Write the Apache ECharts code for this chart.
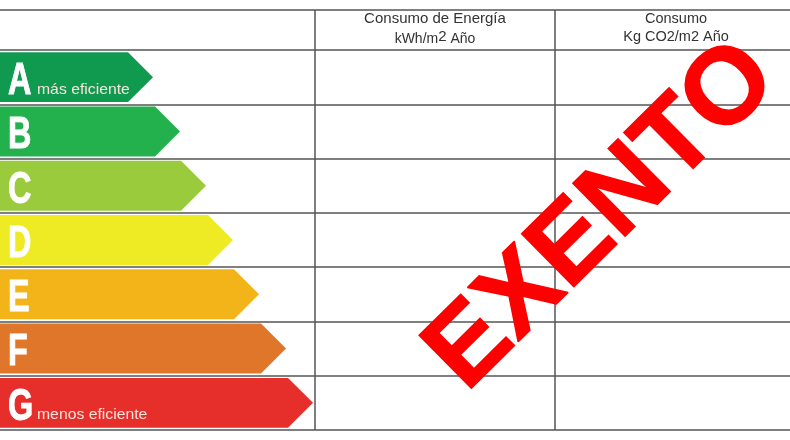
<!DOCTYPE html>
<html>
<head>
<meta charset="utf-8">
<style>html,body{margin:0;padding:0;background:#fff}#main{width:790px;height:440px}</style>
<script src="https://cdn.jsdelivr.net/npm/echarts@6/dist/echarts.min.js"></script>
</head>
<body>
<div id="main"></div>
<script>
// clases de la etiqueta energetica
var grades = ['A', 'B', 'C', 'D', 'E', 'F', 'G'];
var arrowEnds = [153, 180, 206, 233, 259, 286, 313];
var gradeColors = ['#0f9a4f', '#22b14c', '#9acb3c', '#eeea23', '#f3b41a', '#e0762a', '#e62e2b'];
var gradeNotes = ['más eficiente', '', '', '', '', '', 'menos eficiente'];
var columnLines = [315, 555];
var stamp = 'EXENTO';

var lineColor = '#555';
var textColor = '#333';
var font = '"Liberation Sans", Arial, sans-serif';

function renderArrow(params, api) {
    var i = params.dataIndex;
    var mid = api.coord([0, api.value(1)]);
    var tip = api.coord([api.value(0), api.value(1)]);
    var h = api.size([0, 1])[1] * 0.92;
    var neck = tip[0] - h / 2;
    var children = [{
        type: 'polygon',
        shape: { points: [
            [mid[0], mid[1] - h / 2], [neck, mid[1] - h / 2], [tip[0], tip[1]],
            [neck, mid[1] + h / 2], [mid[0], mid[1] + h / 2]
        ] },
        style: { fill: gradeColors[i] }
    }, {
        type: 'text',
        x: 8, y: mid[1] + 27, scaleX: 0.72,
        style: {
            text: grades[i], fill: '#fff', stroke: '#fff', lineWidth: 1, font: 'bold 45px ' + font,
            textAlign: 'left', textVerticalAlign: 'bottom'
        }
    }];
    if (gradeNotes[i]) {
        children.push({
            type: 'text',
            x: 37, y: mid[1] + 20, scaleX: 1.05,
            style: {
                text: gradeNotes[i], fill: '#fbe3dc', font: '15px ' + font,
                textAlign: 'left', textVerticalAlign: 'bottom'
            }
        });
    }
    return { type: 'group', children: children };
}

var myChart = echarts.init(document.getElementById('main'));

var lines = [{ type: 'line', z: 5, shape: { x1: 0, y1: 10, x2: 790, y2: 10 }, style: { stroke: lineColor, lineWidth: 1.5 } }];
columnLines.forEach(function (x) {
    lines.push({ type: 'line', z: 5, shape: { x1: x, y1: 10, x2: x, y2: 430 }, style: { stroke: lineColor, lineWidth: 1.5 } });
});

var option = {
    animation: false,
    backgroundColor: '#fff',
    grid: { left: 0, right: 0, top: 50, bottom: 10 },
    xAxis: { type: 'value', min: 0, max: 790, show: false },
    yAxis: {
        type: 'category',
        data: grades,
        inverse: true,
        axisLabel: { show: false },
        axisTick: { show: false },
        axisLine: { show: false },
        splitLine: { show: true, lineStyle: { color: lineColor, width: 1.5 } }
    },
    graphic: lines.concat([{
        type: 'text', z: 6, x: 435, y: 29,
        style: {
            text: 'Consumo de Energía\n{n|kWh/m}{s|2}{n| Año}',
            font: '15px ' + font, fill: textColor, align: 'center', verticalAlign: 'middle',
            lineHeight: 20,
            rich: {
                n: { font: '14px ' + font, fill: textColor, lineHeight: 20 },
                s: { font: '15px ' + font, fill: textColor, verticalAlign: 'top', lineHeight: 8 }
            }
        }
    }, {
        type: 'text', z: 6, x: 676, y: 28,
        style: {
            text: 'Consumo\nKg CO2/m2 Año',
            font: '14.5px ' + font, fill: textColor, align: 'center', verticalAlign: 'middle',
            lineHeight: 18
        }
    }, {
        type: 'text', z: 10, x: 602.5, y: 216.5, rotation: 0.78,
        style: {
            text: stamp, font: 'bold 108px ' + font, fill: '#ff0000',
            stroke: '#ff0000', lineWidth: 1.5,
            align: 'center', verticalAlign: 'middle'
        }
    }]),
    series: [{
        type: 'custom',
        renderItem: renderArrow,
        silent: true,
        clip: false,
        encode: { x: 0, y: 1 },
        data: arrowEnds.map(function (v, i) { return [v, i]; })
    }]
};

myChart.setOption(option);
</script>
</body>
</html>
